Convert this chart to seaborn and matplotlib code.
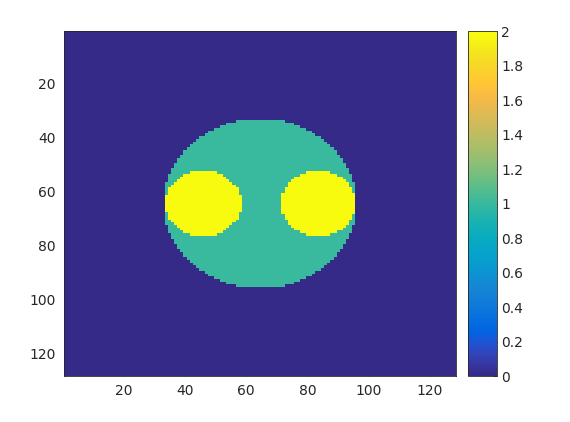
import numpy as np
import matplotlib
matplotlib.use("Agg")
import matplotlib.pyplot as plt
import seaborn as sns
from matplotlib.colors import LinearSegmentedColormap

# image size (rows x cols), MATLAB style 1-based pixel grid
n_rows = 128
n_cols = 128

# big disc: value 1
big_center = (64.5, 64.5)   # (col, row)
big_radius = 31.5
big_value = 1

# two small discs: value 2 (only inside the big disc)
small_centers = [(46.0, 64.5), (83.5, 64.5)]
small_radius = 12.3
small_value = 2

tick_vals = [20, 40, 60, 80, 100, 120]
cbar_ticks = [0, 0.2, 0.4, 0.6, 0.8, 1, 1.2, 1.4, 1.6, 1.8, 2]

# parula colormap (MATLAB)
parula_pts = [
    [0.2081, 0.1663, 0.5292], [0.2123, 0.2138, 0.6270], [0.1959, 0.2645, 0.7279],
    [0.1253, 0.3242, 0.8303], [0.0117, 0.3875, 0.8820], [0.0165, 0.4266, 0.8786],
    [0.0498, 0.4586, 0.8641], [0.0723, 0.4887, 0.8467], [0.0793, 0.5200, 0.8312],
    [0.0641, 0.5570, 0.8240], [0.0343, 0.5966, 0.8199], [0.0239, 0.6287, 0.8038],
    [0.0228, 0.6535, 0.7768], [0.0384, 0.6743, 0.7436], [0.0843, 0.6928, 0.7062],
    [0.1453, 0.7098, 0.6646], [0.2178, 0.7250, 0.6193], [0.3022, 0.7376, 0.5712],
    [0.3953, 0.7459, 0.5244], [0.4871, 0.7491, 0.4840], [0.5709, 0.7485, 0.4494],
    [0.6473, 0.7456, 0.4188], [0.7184, 0.7411, 0.3905], [0.7858, 0.7356, 0.3633],
    [0.8507, 0.7299, 0.3360], [0.9139, 0.7258, 0.3063], [0.9739, 0.7314, 0.2666],
    [0.9990, 0.7653, 0.2164], [0.9880, 0.8066, 0.1794], [0.9697, 0.8481, 0.1475],
    [0.9589, 0.8949, 0.1132], [0.9661, 0.9514, 0.0755], [0.9763, 0.9831, 0.0538],
]
parula = LinearSegmentedColormap.from_list("parula", parula_pts, N=256)

# build the image
cols, rows = np.meshgrid(np.arange(1, n_cols + 1), np.arange(1, n_rows + 1))
img = np.zeros((n_rows, n_cols))
in_big = (cols - big_center[0]) ** 2 + (rows - big_center[1]) ** 2 <= big_radius ** 2
img[in_big] = big_value
for cx, cy in small_centers:
    in_small = (cols - cx) ** 2 + (rows - cy) ** 2 <= small_radius ** 2
    img[in_small & in_big] = small_value

sns.set_style("white")
plt.rcParams['font.family'] = ['DejaVu Sans']

fig = plt.figure(figsize=(5.7, 4.22), dpi=100)
ax = fig.add_axes([0.1123, 0.109, 0.6877, 0.8175])
cax = fig.add_axes([0.821, 0.109, 0.0509, 0.8175])

sns.heatmap(img, ax=ax, cbar_ax=cax, cmap=parula, vmin=0, vmax=2,
            xticklabels=False, yticklabels=False, linewidths=0, rasterized=True)

ax.set_xticks([v - 0.5 for v in tick_vals])
ax.set_xticklabels([str(v) for v in tick_vals])
ax.set_yticks([v - 0.5 for v in tick_vals])
ax.set_yticklabels([str(v) for v in tick_vals], rotation=0)
ax.tick_params(direction='in', length=3, width=0.6, color='#262626',
               labelsize=10, labelcolor='#262626', top=True, right=True,
               bottom=True, left=True, pad=6)
for sp in ax.spines.values():
    sp.set_visible(True)
    sp.set_color('#262626')
    sp.set_linewidth(0.6)

cbar = ax.collections[0].colorbar
cbar.set_ticks(cbar_ticks)
cbar.set_ticklabels([f"{t:g}" for t in cbar_ticks])
cax.tick_params(direction='in', length=3, width=0.6, color='#262626',
                labelsize=10, labelcolor='#262626', right=True, left=False, pad=3)
cbar.outline.set_visible(True)
cbar.outline.set_edgecolor('#262626')
cbar.outline.set_linewidth(0.6)

fig.savefig("out.png", dpi=100, facecolor='white')
